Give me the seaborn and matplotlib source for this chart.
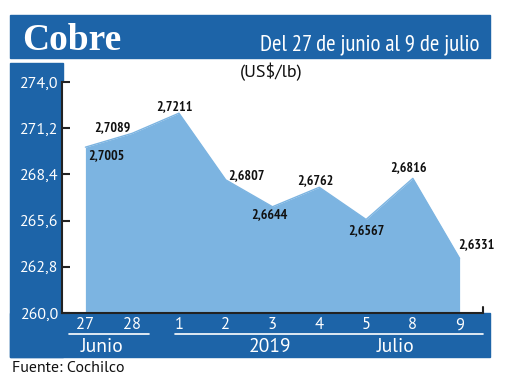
import numpy as np
import pandas as pd
import seaborn as sns
import matplotlib.pyplot as plt
from matplotlib.patches import Rectangle
from matplotlib.lines import Line2D

# precio del cobre (centavos US$/lb) del 27 de junio al 9 de julio 2019
dias = ["27", "28", "1", "2", "3", "4", "5", "8", "9"]
precio = [270.05, 270.89, 272.11, 268.07, 266.44, 267.62, 265.67, 268.16, 263.31]
etiquetas = ["2,7005", "2,7089", "2,7211", "2,6807", "2,6644",
             "2,6762", "2,6567", "2,6816", "2,6331"]
yticks = [260.0, 262.8, 265.6, 268.4, 271.2, 274.0]

azul = "#1d64a8"
celeste = "#7cb4e1"
sans = ["PT Sans", "DejaVu Sans"]
narrow = ["PT Sans Narrow", "DejaVu Sans"]

sns.set_theme(style="white")
plt.rcParams["font.family"] = sans

df = pd.DataFrame({"pos": np.arange(len(dias)), "precio": precio})

fig = plt.figure(figsize=(5.2, 3.9), dpi=100)
ax = fig.add_axes([62 / 520, 1 - 313 / 390, 421 / 520, 231 / 390])

# bandas azules de fondo
for (x0, y0, w, h) in [(10, 15, 480, 43), (10, 63, 53, 294), (10, 313, 480, 44)]:
    fig.add_artist(Rectangle((x0 / 520, 1 - (y0 + h) / 390), w / 520, h / 390,
                             transform=fig.transFigure, color=azul, zorder=-1))

ax.fill_between(df["pos"], df["precio"], 260, color=celeste, lw=0)
sns.lineplot(data=df, x="pos", y="precio", color=celeste, lw=1, ax=ax)

# etiquetas de valores (offset en puntos)
offs = [(2, -6, "left"), (-1, 4, "right"), (-3, 5, "center"), (2, 3, "left"),
        (-2, -6, "center"), (-3, 5, "center"), (0, -8, "center"),
        (-3, 8, "center"), (-1, 10, "left")]
for i, (dx, dy, ha) in enumerate(offs):
    ax.annotate(etiquetas[i], (i, precio[i]), xytext=(dx, dy), textcoords="offset points",
                ha=ha, va="center", fontsize=10, fontweight="bold",
                family=narrow, color="#111111")

ax.set_xlim(-0.5, 8.5)
ax.set_ylim(260, 274)
ax.set_yticks(yticks)
ax.set_yticklabels([f"{v:.1f}".replace(".", ",") for v in yticks])
ax.set_xticks(range(len(dias)))
ax.set_xticklabels(dias)
ax.set_xlabel("")
ax.set_ylabel("")
ax.tick_params(axis="y", direction="in", length=6, width=1.5, color="#222222",
               labelsize=11.5, labelcolor="white", pad=3, left=True)
ax.tick_params(axis="x", length=0, labelsize=12, labelcolor="white", pad=3)
for s in ["top", "right"]:
    ax.spines[s].set_visible(False)
for s in ["left", "bottom"]:
    ax.spines[s].set_color("#222222")
    ax.spines[s].set_linewidth(1.5)
ax.plot([1, 1], [0, 0.025], transform=ax.transAxes, color="#222222", lw=1.5,
        clip_on=False)

# cabecera
fig.text(22 / 520, 1 - 50 / 390, "Cobre", color="white", fontsize=27,
         fontweight="bold", family=["Liberation Serif", "DejaVu Serif"],
         va="baseline", ha="left")
fig.text(480 / 520, 1 - 50 / 390, "Del 27 de junio al 9 de julio", color="white",
         fontsize=16.5, va="baseline", ha="right", family=narrow)
fig.text(271 / 520, 1 - 72 / 390, "(US$/lb)", color="#111111", fontsize=13,
         va="center", ha="center")

# meses y año
for lx0, lx1 in [(69, 149), (175, 483)]:
    fig.add_artist(Line2D([lx0 / 520, lx1 / 520], [1 - 334 / 390] * 2, color="white",
                          lw=1.2, transform=fig.transFigure))
for tx, t in [(102, "Junio"), (270, "2019"), (396, "Julio")]:
    fig.text(tx / 520, 1 - 347 / 390, t, color="white", fontsize=14,
             ha="center", va="center")

fig.text(12 / 520, 1 - 368 / 390, "Fuente: Cochilco", color="#111111", fontsize=11.5,
         ha="left", va="center")

fig.savefig("out.png", dpi=100)
